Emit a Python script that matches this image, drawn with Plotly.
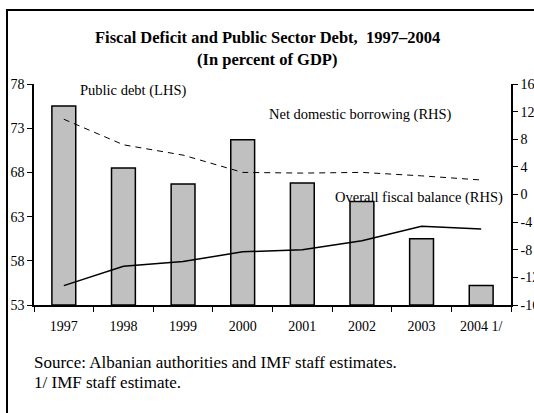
import plotly.graph_objects as go

years = ["1997", "1998", "1999", "2000", "2001", "2002", "2003", "2004 1/"]
public_debt = [75.5, 68.5, 66.7, 71.7, 66.8, 64.7, 60.5, 55.2]
net_domestic_borrowing = [10.9, 7.2, 5.7, 3.2, 3.1, 3.2, 2.7, 2.1]
overall_fiscal_balance = [-13.2, -10.4, -9.7, -8.3, -8.0, -6.7, -4.6, -5.0]
left_ticks = [53, 58, 63, 68, 73, 78]
right_ticks = [-16, -12, -8, -4, 0, 4, 8, 12, 16]
debt_base = 53

W, H = 534, 413
L, R, T, B = 34, 511, 84, 305
FONT = "Liberation Serif"


def px(x):
    return (x - L) / (R - L)


def py(y):
    return (B - y) / (B - T)


fig = go.Figure()
fig.add_trace(go.Bar(
    x=years, y=[v - debt_base for v in public_debt], base=debt_base, width=0.4,
    marker=dict(color="#C0C0C0", line=dict(color="black", width=1.5)),
    name="Public debt (LHS)", yaxis="y",
))
fig.add_trace(go.Scatter(
    x=years, y=net_domestic_borrowing, mode="lines", yaxis="y2",
    line=dict(color="black", width=1, dash="6px,5px"),
    name="Net domestic borrowing (RHS)",
))
fig.add_trace(go.Scatter(
    x=years, y=overall_fiscal_balance, mode="lines", yaxis="y2",
    line=dict(color="black", width=1.5),
    name="Overall fiscal balance (RHS)",
))

axis_font = dict(family=FONT, size=14, color="black")
fig.update_layout(
    width=W, height=H,
    margin=dict(l=L, r=W - R, t=T, b=H - B, pad=0, autoexpand=False),
    paper_bgcolor="white", plot_bgcolor="white",
    showlegend=False,
    font=axis_font,
    xaxis=dict(
        type="category", tickson="boundaries", ticks="outside", ticklen=5,
        tickwidth=1.2, tickcolor="black", showline=True, linecolor="black",
        linewidth=1.5, showgrid=False, tickfont=axis_font, ticklabelstandoff=7,
        range=[-0.5, 7.5], automargin=False,
    ),
    yaxis=dict(
        range=[53, 78], autorange=False, tickvals=left_ticks,
        ticktext=[str(v) for v in left_ticks],
        ticks="outside", ticklen=5, tickwidth=1.2, tickcolor="black",
        showline=True, linecolor="black", linewidth=1.5, showgrid=False,
        zeroline=False, tickfont=axis_font, automargin=False,
    ),
    yaxis2=dict(
        range=[-16, 16], autorange=False, tickvals=right_ticks,
        ticktext=[str(v) for v in right_ticks],
        overlaying="y", side="right", ticks="outside", ticklen=5, tickwidth=1.2,
        tickcolor="black", showline=True, linecolor="black", linewidth=1.5,
        showgrid=False, zeroline=False, tickfont=axis_font, automargin=False,
    ),
)

# outer frame (left and top edges; the rest lies outside the picture)
fig.add_shape(type="line", xref="paper", yref="paper",
              x0=px(7), x1=px(7), y0=py(H + 5), y1=py(10),
              line=dict(color="black", width=2))
fig.add_shape(type="line", xref="paper", yref="paper",
              x0=px(6), x1=px(W + 5), y0=py(10), y1=py(10),
              line=dict(color="black", width=2))

anns = [
    ("<b>Fiscal Deficit and Public Sector Debt,  1997–2004</b>", 267, 37, "center", 16.5),
    ("<b>(In percent of GDP)</b>", 267, 60, "center", 16.5),
    ("Public debt (LHS)", 78, 90, "left", 14.5),
    ("Net domestic borrowing (RHS)", 267, 114, "left", 14.5),
    ("Overall fiscal balance (RHS)", 333, 197, "left", 14.5),
    ("Source: Albanian authorities and IMF staff estimates.", 32, 362, "left", 17),
    ("1/ IMF staff estimate.", 32, 382, "left", 17),
]
for text, x, y, anchor, size in anns:
    fig.add_annotation(text=text, xref="paper", yref="paper", x=px(x), y=py(y),
                       xanchor=anchor, yanchor="middle", showarrow=False,
                       font=dict(family=FONT, size=size, color="black"))

fig.write_html("out.html", config={"displayModeBar": False},
               post_script="document.body.style.margin='0';document.body.style.overflow='hidden';")
